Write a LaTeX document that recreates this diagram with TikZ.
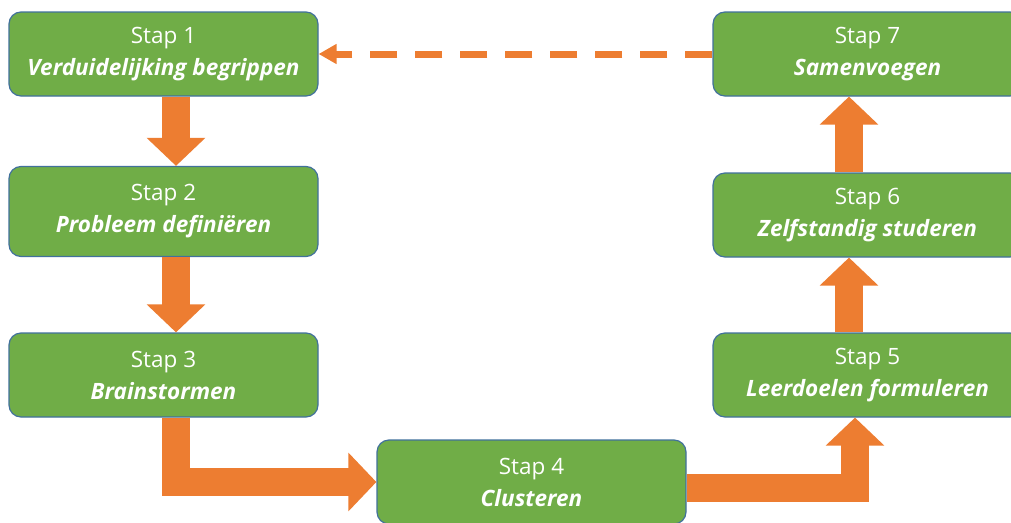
\documentclass[tikz,border=0pt]{standalone}
\usepackage{fontspec}
\setmainfont{Open Sans}
\usetikzlibrary{arrows.meta}
\definecolor{stapgreen}{HTML}{70AD47}
\definecolor{stapblue}{HTML}{41719C}
\definecolor{pijloranje}{HTML}{ED7D31}

\begin{document}
\begin{tikzpicture}[x=1pt,y=-1pt]
  % some styles
  \tikzset{
    stap/.style={
      rectangle,
      rounded corners=12pt,
      minimum width=309pt,
      minimum height=84pt,
      inner sep=0pt,
      fill=stapgreen,
      draw=stapblue,
      line width=1.2pt,
      text=white,
      align=center,
      font=\fontsize{22.5}{32}\selectfont
    },
    blok/.style={
      draw=pijloranje,
      line width=28pt,
      line join=miter,
      -{Triangle[length=28pt,width=57pt]}
    },
    terug/.style={
      draw=pijloranje,
      line width=7pt,
      dash pattern=on 27pt off 18pt,
      -{Triangle[length=18pt,width=19pt]}
    }
  }

\clip (0,0) rectangle (1011,522);
\fill[white] (0,0) rectangle (1011,522);

% left column
\node[stap] (stap1) at (163.5,54) {Stap 1\\\textbf{\textit{Verduidelijking begrippen}}};
\node[stap,minimum height=90pt] (stap2) at (163.5,211.5) {Stap 2\\\textbf{\textit{Probleem definiëren}}};
\node[stap] (stap3) at (163.5,375) {Stap 3\\\textbf{\textit{Brainstormen}}};

% bottom
\node[stap] (stap4) at (531.5,482) {Stap 4\\\textbf{\textit{Clusteren}}};

% right column
\node[stap] (stap5) at (867.5,375) {Stap 5\\\textbf{\textit{Leerdoelen formuleren}}};
\node[stap] (stap6) at (867.5,215) {Stap 6\\\textbf{\textit{Zelfstandig studeren}}};
\node[stap] (stap7) at (867.5,54) {Stap 7\\\textbf{\textit{Samenvoegen}}};

% arrows
\draw[blok] ([xshift=12.5pt]stap1.south) -- ([xshift=12.5pt]stap2.north);
\draw[blok] ([xshift=12.5pt]stap2.south) -- ([xshift=12.5pt]stap3.north);
\draw[blok] ([xshift=12pt]stap3.south) |- (stap4.west);
\draw[blok] ([yshift=-6pt]stap4.east) -| ([xshift=-12.5pt]stap5.south);
\draw[blok] ([xshift=-18.5pt]stap5.north) -- ([xshift=-18.5pt]stap6.south);
\draw[blok] ([xshift=-18.5pt]stap6.north) -- ([xshift=-18.5pt]stap7.south);
\draw[terug] (stap7.west) -- (stap1.east);

\end{tikzpicture}
\end{document}
